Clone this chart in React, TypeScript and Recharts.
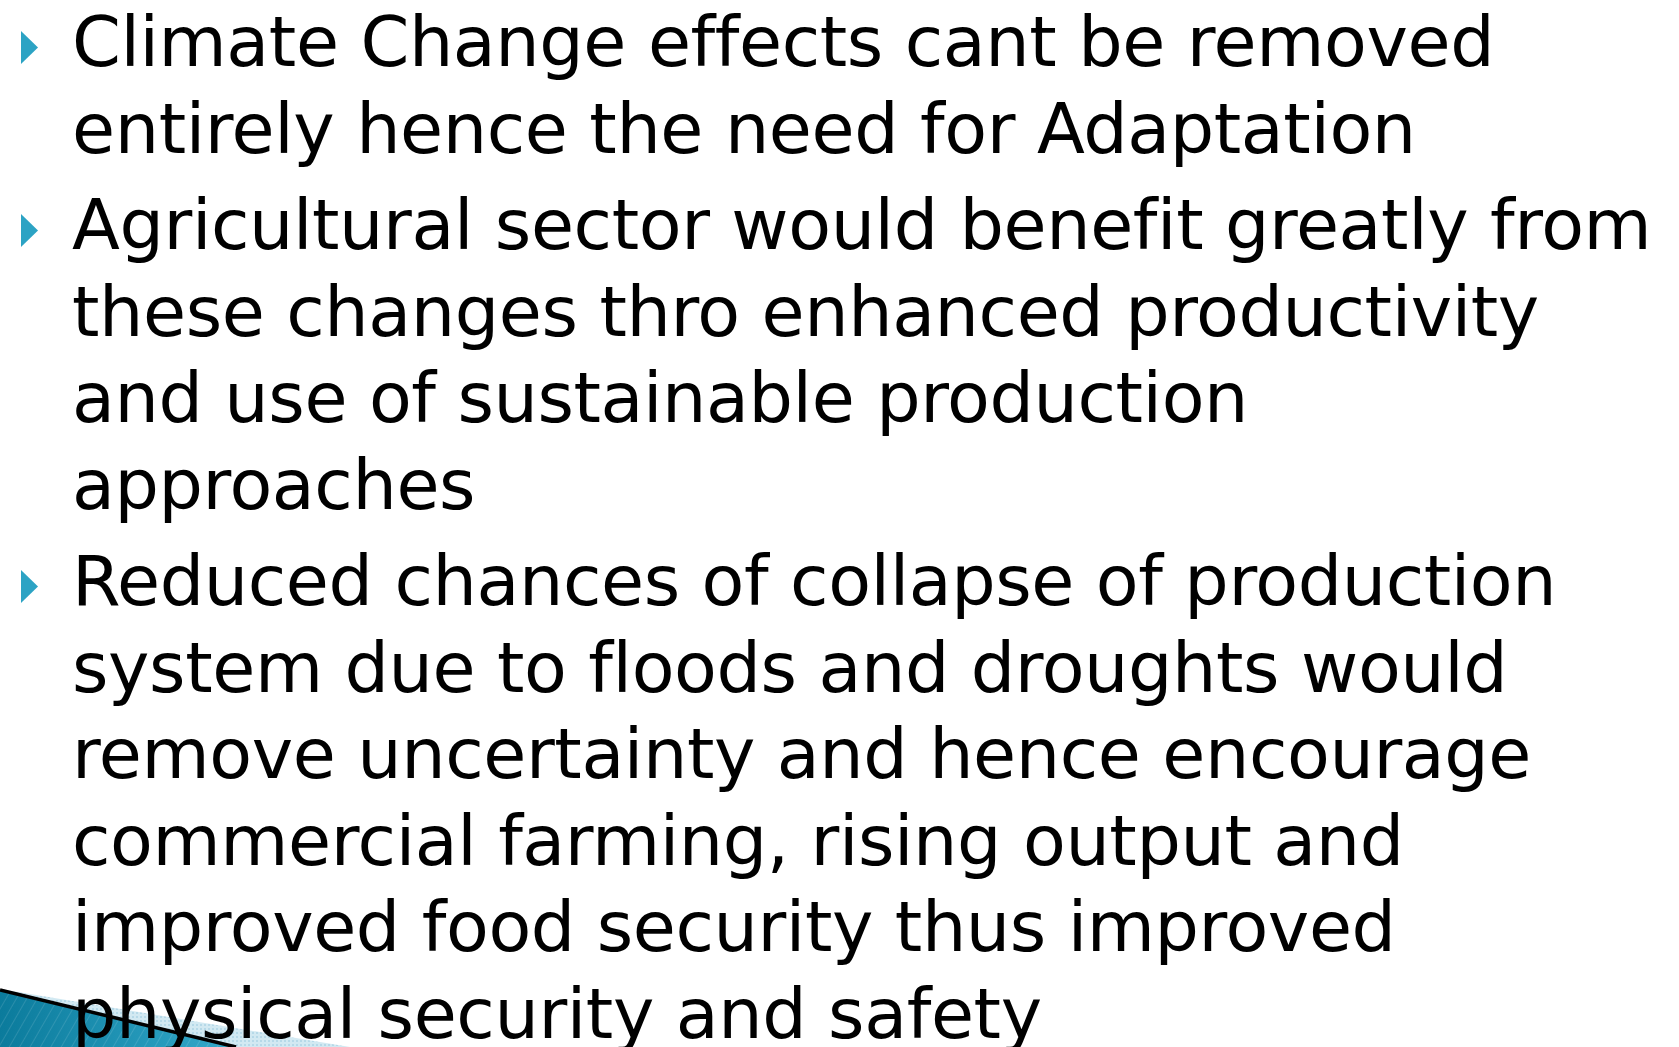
import { ScatterChart, Scatter, XAxis, YAxis, Customized } from 'recharts'

// slide text, one entry per wrapped line
const LINES = [
  'Climate Change effects cant be removed',
  'entirely hence the need for Adaptation',
  'Agricultural sector would benefit greatly from',
  'these changes thro enhanced productivity',
  'and use of sustainable production',
  'approaches',
  'Reduced chances of collapse of production',
  'system due to floods and droughts would',
  'remove uncertainty and hence encourage',
  'commercial farming, rising output and',
  'improved food security thus improved',
  'physical security and safety',
]
const PARAGRAPH = [0, 0, 1, 1, 1, 1, 2, 2, 2, 2, 2, 2]
const BULLET_ROWS = [0, 2, 6]

const W = 1679
const H = 1047
const PARA_GAP = 10
const FONT = '"DejaVu Sans", Verdana, sans-serif'

const rows = LINES.map((text, i) => ({ col: 0, row: i, text, para: PARAGRAPH[i] }))
const bullets = BULLET_ROWS.map(r => rows[r])

function LineText(props: any) {
  const { cx, cy, payload } = props
  return (
    <text
      x={cx}
      y={cy + payload.para * PARA_GAP}
      fontFamily={FONT}
      fontSize={70}
      fill="#000"
      style={{ letterSpacing: '-0.4px' }}
    >
      {payload.text}
    </text>
  )
}

function Bullet(props: any) {
  const { cx, cy, payload } = props
  const base = cy + payload.para * PARA_GAP
  const x0 = cx - 51
  return <polygon points={`${x0},${base - 35} ${x0 + 17},${base - 18.5} ${x0},${base - 2}`} fill="#2ca3c4" />
}

function CornerSwoosh() {
  return (
    <g>
      <defs>
        <linearGradient id="teal" x1="0" y1="0" x2="1" y2="0">
          <stop offset="0%" stopColor="#0b7b9c" />
          <stop offset="100%" stopColor="#33a9ca" />
        </linearGradient>
        <pattern id="stripes" width="9" height="9" patternUnits="userSpaceOnUse" patternTransform="rotate(30)">
          <line x1="0" y1="0" x2="0" y2="9" stroke="#ffffff" strokeOpacity="0.12" strokeWidth="2" />
        </pattern>
        <pattern id="hatch" width="4" height="4" patternUnits="userSpaceOnUse">
          <rect width="4" height="4" fill="#d2e9f2" />
          <rect width="2" height="2" fill="#b6d9e8" />
        </pattern>
      </defs>
      <polygon points={`0,989 350,${H} 233,${H}`} fill="url(#hatch)" />
      <polygon points={`0,991 233,${H} 0,${H}`} fill="url(#teal)" />
      <polygon points={`0,991 233,${H} 0,${H}`} fill="url(#stripes)" />
      <line x1={0} y1={990} x2={236} y2={H} stroke="#000" strokeWidth={3.5} />
    </g>
  )
}

export default function App() {
  return (
    <div style={{ position: 'absolute', top: 0, left: 0, width: W, height: H, background: '#fff' }}>
      <ScatterChart width={W} height={H} margin={{ top: 0, right: 0, bottom: 0, left: 72 }}>
        <XAxis type="number" dataKey="col" domain={[0, 1]} hide />
        <YAxis type="number" dataKey="row" domain={[-0.763, 11.341]} reversed hide />
        <Customized component={CornerSwoosh} />
        <Scatter data={rows} shape={LineText} isAnimationActive={false} />
        <Scatter data={bullets} shape={Bullet} isAnimationActive={false} />
      </ScatterChart>
    </div>
  )
}
